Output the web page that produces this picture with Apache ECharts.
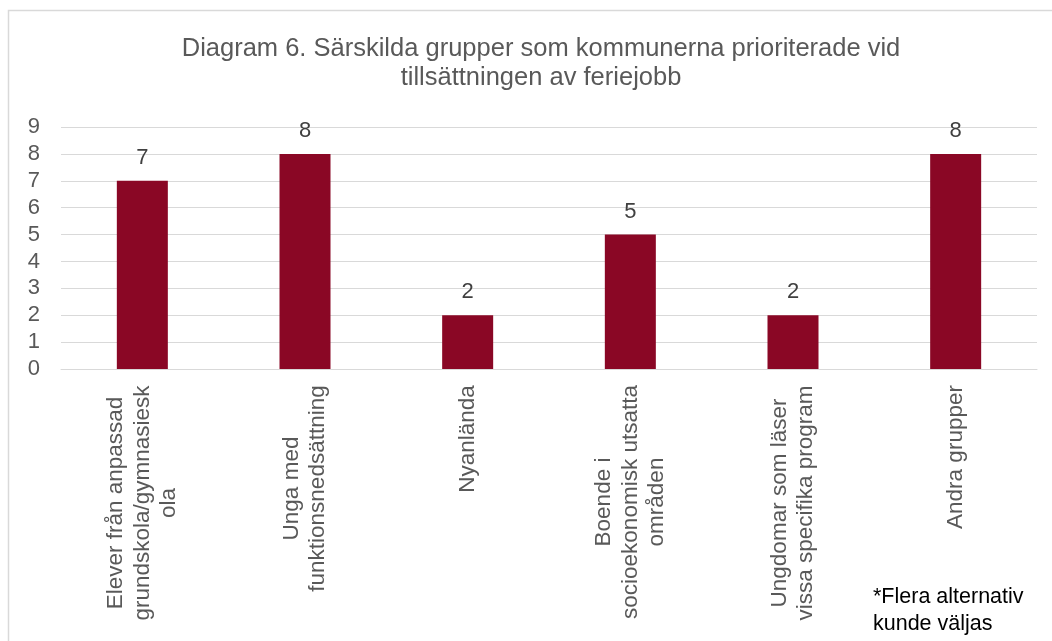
<!DOCTYPE html>
<html>
<head>
<meta charset="utf-8">
<script src="https://cdn.jsdelivr.net/npm/echarts@6/dist/echarts.min.js"></script>
<style>
html,body{margin:0;padding:0;background:#fff;}
#main{width:1052px;height:641px;}
</style>
</head>
<body>
<div id="main"></div>
<script>
// kategorier (radbrytningar som i originalet)
var categories = [
    "Elever från anpassad\ngrundskola/gymnasiesk\nola",
    "Unga med\nfunktionsnedsättning",
    "Nyanlända",
    "Boende i\nsocioekonomisk utsatta\nområden",
    "Ungdomar som läser\nvissa specifika program",
    "Andra grupper"
];
var values = [7, 8, 2, 5, 2, 8];
var yTicks = [0, 1, 2, 3, 4, 5, 6, 7, 8, 9];

var labelSize = 22.5;

// mät längsta raden så att raderna kan centreras mot varandra
var ctx = document.createElement('canvas').getContext('2d');
ctx.font = labelSize + 'px "Liberation Sans"';
var rich = {};
categories.forEach(function (c, i) {
    var w = 0;
    c.split('\n').forEach(function (l) { w = Math.max(w, ctx.measureText(l).width); });
    rich['c' + i] = { width: Math.ceil(w) + 2, align: 'center', fontSize: labelSize, lineHeight: 26.5,
        color: '#595959', fontFamily: 'Liberation Sans' };
});

var myChart = echarts.init(document.getElementById('main'));
myChart.setOption({
    animation: false,
    title: [{
        text: "Diagram 6. Särskilda grupper som kommunerna prioriterade vid\ntillsättningen av feriejobb",
        left: 536, top: 29, textAlign: 'center',
        textStyle: { fontFamily: 'Liberation Sans', fontSize: 25.5, fontWeight: 'normal', color: '#595959', lineHeight: 29 }
    }, {
        text: "*Flera alternativ\nkunde väljas",
        left: 868, top: 579,
        textStyle: { fontFamily: 'Liberation Sans', fontSize: 21.5, fontWeight: 'normal', color: '#000', lineHeight: 27 }
    }],
    graphic: [{
        type: 'rect', shape: { x: 8.5, y: 10.5, width: 1100, height: 700 },
        style: { fill: null, stroke: '#d9d9d9', lineWidth: 1.5 }, silent: true
    }],
    grid: { left: 61, right: 15, top: 127, bottom: 272 },
    xAxis: {
        type: 'category',
        data: categories,
        axisLine: { lineStyle: { color: '#d9d9d9', width: 1 } },
        axisTick: { show: false },
        axisLabel: {
            rotate: 90, interval: 0, margin: 15,
            formatter: function (v, i) {
                return v.split('\n').map(function (l) { return '{c' + i + '|' + l + '}'; }).join('\n');
            },
            rich: rich
        }
    },
    yAxis: {
        type: 'value',
        min: yTicks[0], max: yTicks[yTicks.length - 1], interval: 1,
        axisLine: { show: false },
        axisTick: { show: false },
        splitLine: { lineStyle: { color: '#d9d9d9', width: 1 } },
        axisLabel: { margin: 21, color: '#595959', fontSize: 22, fontFamily: 'Liberation Sans' }
    },
    series: [{
        type: 'bar',
        data: values,
        barWidth: 51,
        itemStyle: { color: '#8a0725' },
        label: {
            show: true, position: 'top', distance: 12,
            color: '#404040', fontSize: 22, fontFamily: 'Liberation Sans'
        }
    }]
});
</script>
</body>
</html>
